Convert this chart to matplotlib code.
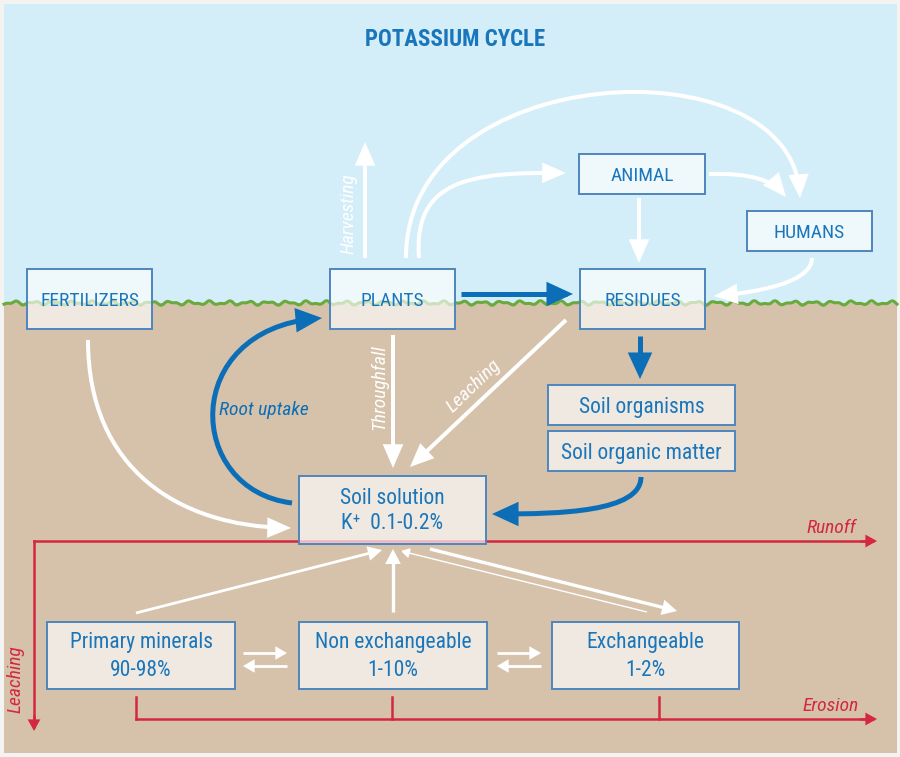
import matplotlib
matplotlib.use('Agg')
import matplotlib.pyplot as plt
from matplotlib.patches import Rectangle, FancyArrowPatch
from matplotlib.path import Path
from matplotlib import font_manager as fm
import numpy as np

# 字体: 找一个窄体
names = {f.name for f in fm.fontManager.ttflist}
cands = ['Roboto Condensed', 'Liberation Sans Narrow', 'Noto Sans', 'Liberation Sans']
FONT = next(n for n in cands if n in names)
FAM = [FONT, 'DejaVu Sans']

# data
title = 'POTASSIUM CYCLE'
top_boxes = ['FERTILIZERS', 'PLANTS', 'RESIDUES', 'ANIMAL', 'HUMANS']
organic = ['Soil organisms', 'Soil organic matter']
pools = ['Primary minerals', 'Non exchangeable', 'Exchangeable']
pool_share = ['90-98%', '1-10%', '1-2%']
solution = ['Soil solution', 'K\u207a  0.1-0.2%']
flow_labels = ['Harvesting', 'Throughfall', 'Leaching', 'Root uptake']
loss_labels = ['Runoff', 'Erosion', 'Leaching']

SKY = '#d3eef9'
SOIL = '#d6c2aa'
BLUE = '#1a76bb'
BL = '#0b6eb6'
EDGE = '#4d86bd'
RED = '#d3283f'
WHITE = 'white'

W, H = 900, 757
fig = plt.figure(figsize=(9, 7.57), dpi=100)
fig.patch.set_facecolor('#f3f3f1')
ax = fig.add_axes([0, 0, 1, 1])
ax.set_xlim(0, W)
ax.set_ylim(H, 0)
ax.axis('off')

ax.add_patch(Rectangle((4, 4), 893, 300, fc=SKY, ec='none', zorder=0))
ax.add_patch(Rectangle((4, 303), 893, 450, fc=SOIL, ec='none', zorder=0))
gx = np.linspace(4, 897, 700)
gy = 303 + 1.4 * np.sin(gx / 3.1) + 0.9 * np.sin(gx / 1.7 + 1)
ax.plot(gx, gy, color='#6aa93c', lw=2.2, zorder=1)

ax.text(455, 40, title, color=BLUE, fontsize=16.5, fontweight='bold',
        family=FAM, ha='center', va='center')


def box(x0, y0, x1, y1, txt, size=14, ls=1.2, dy=2):
    ax.add_patch(Rectangle((x0, y0), x1 - x0, y1 - y0, fc=(1, 1, 1, 0.65),
                           ec=EDGE, lw=1.4, zorder=5))
    ax.text((x0 + x1) / 2, (y0 + y1) / 2 + dy, txt, color=BLUE, fontsize=size,
            family=FAM, ha='center', va='center', linespacing=ls, zorder=6)


def arrow(pts, color=WHITE, lw=2.9, hl=0.6, hw=0.26, ms=20, z=4):
    if len(pts) == 2:
        p = Path(pts, [Path.MOVETO, Path.LINETO])
    else:
        p = Path(pts, [Path.MOVETO, Path.CURVE4, Path.CURVE4, Path.CURVE4])
    a = FancyArrowPatch(path=p, arrowstyle='-|>,head_length=%s,head_width=%s' % (hl, hw),
                        mutation_scale=ms, color=color, lw=lw, zorder=z,
                        shrinkA=0, shrinkB=0, joinstyle='miter', capstyle='butt')
    ax.add_patch(a)


def label(x, y, txt, color, rot=0, size=14):
    ax.text(x, y, txt, color=color, fontsize=size, style='italic', family=FAM,
            ha='center', va='center', rotation=rot, zorder=6)


# red loss lines
ax.plot([34, 872], [541, 541], color=RED, lw=1.8, zorder=2)
ax.plot([34, 34], [541, 726], color=RED, lw=1.8, zorder=2)
arrow([(860, 541), (877, 541)], color=RED, lw=1.8, hl=0.4, hw=0.22, ms=14, z=2)
arrow([(34, 715), (34, 731)], color=RED, lw=1.8, hl=0.4, hw=0.22, ms=14, z=2)
ax.plot([136, 872], [719, 719], color=RED, lw=1.8, zorder=2)
for xv in [136, 392, 659]:
    ax.plot([xv, xv], [697, 719], color=RED, lw=1.8, zorder=2)
arrow([(860, 719), (877, 719)], color=RED, lw=1.8, hl=0.4, hw=0.22, ms=14, z=2)
label(831, 528, loss_labels[0], RED)
label(831, 706, loss_labels[1], RED)
label(16, 679, loss_labels[2], RED, rot=90)

# boxes
box(27, 269, 152, 329, top_boxes[0])
box(330, 269, 455, 329, top_boxes[1])
box(580, 269, 705, 329, top_boxes[2])
box(579, 154, 705, 194, top_boxes[3])
box(747, 211, 872, 251, top_boxes[4])
box(548, 385, 735, 425, organic[0], size=15.5)
box(548, 431, 735, 471, organic[1], size=15.5)
box(299, 476, 486, 544, solution[0] + '\n' + solution[1], size=15.5, dy=1)
box(47, 622, 235, 689, pools[0] + '\n' + pool_share[0], size=15.5, ls=1.4, dy=1)
box(299, 622, 487, 689, pools[1] + '\n' + pool_share[1], size=15.5, ls=1.4, dy=1)
box(552, 622, 739, 689, pools[2] + '\n' + pool_share[2], size=15.5, ls=1.4, dy=1)

# white flows above ground
arrow([(365, 258), (365, 142)])
label(349, 214, flow_labels[0], WHITE, rot=90)
arrow([(406, 258), (405, 60), (790, 40), (800, 198)])
arrow([(419, 258), (413, 180), (470, 172), (566, 173)])
arrow([(709, 174), (750, 173), (772, 180), (786, 197)])
arrow([(639, 198), (639, 263)])
arrow([(812, 258), (812, 282), (760, 292), (714, 296)])

# blue flows
arrow([(461, 294), (573, 294)], color=BL, lw=3.6, hl=0.65, hw=0.3)
arrow([(640, 336), (640, 379)], color=BL, lw=3.6, hl=0.65, hw=0.3)
arrow([(292, 503), (185, 490), (180, 330), (322, 318)], color=BL, lw=3.6, hl=0.65, hw=0.3)
label(264, 410, flow_labels[3], BL)
arrow([(641, 477), (641, 512), (560, 514), (492, 514)], color=BL, lw=3.6, hl=0.65, hw=0.3)

# white flows below ground
arrow([(393, 335), (393, 468)])
label(379, 387, flow_labels[1], WHITE, rot=90)
arrow([(566, 320), (410, 467)])
label(474, 386, flow_labels[2], WHITE, rot=44)
arrow([(88, 340), (88, 470), (180, 526), (291, 528)])

# exchanges with soil solution
arrow([(136, 613), (382, 550)], lw=2.0, hl=0.5, hw=0.26, ms=14)
arrow([(393, 612), (393, 549)], lw=2.4, hl=0.5, hw=0.26, ms=14)
arrow([(430, 549), (677, 611)], lw=2.4, hl=0.5, hw=0.26, ms=14)
arrow([(647, 612), (401, 551)], lw=1.0, hl=0.5, hw=0.3, ms=10)
for xa, xb in [(243, 287), (497, 541)]:
    arrow([(xa, 653), (xb, 653)], lw=2.0, hl=0.45, hw=0.26, ms=12)
    arrow([(xb, 666), (xa, 666)], lw=2.0, hl=0.45, hw=0.26, ms=12)

fig.savefig('out.png', dpi=100, facecolor=fig.get_facecolor())
